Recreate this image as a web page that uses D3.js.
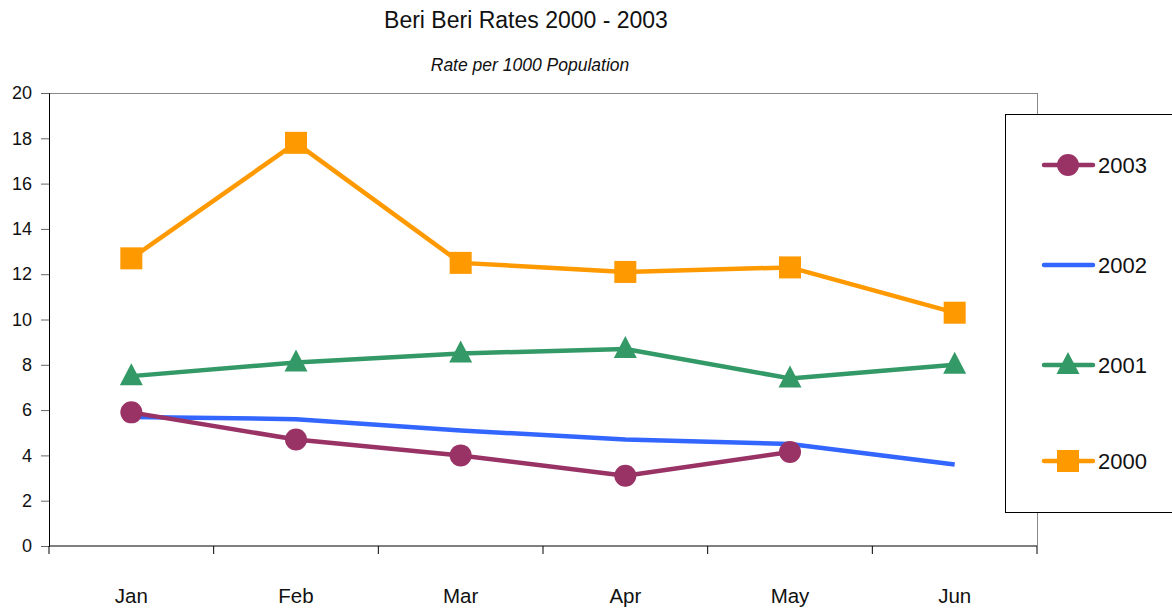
<!DOCTYPE html>
<html>
<head>
<meta charset="utf-8">
<script src="https://cdn.jsdelivr.net/npm/d3@7"></script>
<style>
  body { margin: 0; background: #fff; }
  svg text { font-family: "Liberation Sans", Arial, sans-serif; fill: #111; }
</style>
</head>
<body>
<div id="chart"></div>
<script>
var svgWidth = 1172;
var svgHeight = 608;

var months = ["Jan", "Feb", "Mar", "Apr", "May", "Jun"];
var yTicks = [0, 2, 4, 6, 8, 10, 12, 14, 16, 18, 20];
var rates2003 = [5.9, 4.7, 4.0, 3.1, 4.15, null];
var rates2002 = [5.7, 5.6, 5.1, 4.7, 4.5, 3.6];
var rates2001 = [7.5, 8.1, 8.5, 8.7, 7.4, 8.0];
var rates2000 = [12.7, 17.8, 12.5, 12.1, 12.3, 10.3];

var series = [
  { name: "2003", values: rates2003, color: "#993366", marker: "circle" },
  { name: "2002", values: rates2002, color: "#3366FF", marker: "none" },
  { name: "2001", values: rates2001, color: "#339966", marker: "triangle" },
  { name: "2000", values: rates2000, color: "#FF9900", marker: "square" }
];

var margin = { top: 93, left: 49 };
var width = 1037 - 49;
var height = 546 - 93;

var svg = d3.select("#chart")
  .append("svg")
  .attr("width", svgWidth)
  .attr("height", svgHeight);

// titles
svg.append("text")
  .attr("x", 526).attr("y", 28)
  .attr("text-anchor", "middle")
  .style("font-size", "23px")
  .text("Beri Beri Rates 2000 - 2003");

svg.append("text")
  .attr("x", 530).attr("y", 71)
  .attr("text-anchor", "middle")
  .style("font-size", "17.5px")
  .style("font-style", "italic")
  .text("Rate per 1000 Population");

var chartGroup = svg.append("g")
  .attr("transform", `translate(${margin.left}, ${margin.top})`);

// scales
var xScale = d3.scaleBand()
  .domain(months)
  .range([0, width]);

var yScale = d3.scaleLinear()
  .domain([0, 20])
  .range([height, 0]);

// plot frame top and right (gray)
chartGroup.append("line")
  .attr("x1", 0).attr("x2", width)
  .attr("y1", 0.5).attr("y2", 0.5)
  .attr("stroke", "#888").attr("stroke-width", 1);
chartGroup.append("line")
  .attr("x1", width + 0.5).attr("x2", width + 0.5)
  .attr("y1", 0).attr("y2", height)
  .attr("stroke", "#888").attr("stroke-width", 1);

// y axis
var yAxis = d3.axisLeft(yScale).tickValues(yTicks).tickSize(8).tickPadding(9);
var yG = chartGroup.append("g").call(yAxis);
yG.select(".domain").attr("stroke", "#000");
yG.selectAll(".tick line").attr("stroke", "#666");
yG.selectAll("text").style("font-size", "18px").attr("fill", "#222");

// x axis with ticks on band edges
var xAxisG = chartGroup.append("g")
  .attr("transform", `translate(0, ${height})`);
xAxisG.append("line")
  .attr("x1", 0).attr("x2", width)
  .attr("y1", 0).attr("y2", 0)
  .attr("stroke", "#000");
var edges = months.map(m => xScale(m)).concat([width]);
xAxisG.selectAll(".edge")
  .data(edges)
  .enter()
  .append("line")
  .attr("x1", d => d).attr("x2", d => d)
  .attr("y1", 0).attr("y2", 8)
  .attr("stroke", "#000");
xAxisG.selectAll(".mlabel")
  .data(months)
  .enter()
  .append("text")
  .attr("x", d => xScale(d) + xScale.bandwidth() / 2)
  .attr("y", 57)
  .attr("text-anchor", "middle")
  .style("font-size", "20.5px")
  .text(d => d);

var cx = i => xScale(months[i]) + xScale.bandwidth() / 2;

var line = d3.line()
  .defined(d => d != null)
  .x((d, i) => cx(i))
  .y(d => yScale(d));

function drawMarker(g, type, x, y, color) {
  if (type === "circle") {
    g.append("circle").attr("cx", x).attr("cy", y).attr("r", 11).attr("fill", color);
  } else if (type === "square") {
    g.append("rect").attr("x", x - 11).attr("y", y - 11)
      .attr("width", 22).attr("height", 22).attr("fill", color);
  } else if (type === "triangle") {
    g.append("path")
      .attr("d", `M${x},${y - 13}L${x + 11.5},${y + 9}L${x - 11.5},${y + 9}Z`)
      .attr("fill", color);
  }
}

// draw series, last first so 2003 ends up on top
series.slice().reverse().forEach(function(s) {
  var g = chartGroup.append("g");
  g.append("path")
    .datum(s.values)
    .attr("d", line)
    .attr("fill", "none")
    .attr("stroke", s.color)
    .attr("stroke-width", 4.5)
    .attr("stroke-linejoin", "round");
  s.values.forEach(function(v, i) {
    if (v != null) drawMarker(g, s.marker, cx(i), yScale(v), s.color);
  });
});

// legend
var legend = svg.append("g").attr("transform", "translate(1005, 114)");
legend.append("rect")
  .attr("x", 0.5).attr("y", 0.5)
  .attr("width", 180).attr("height", 398)
  .attr("fill", "#fff").attr("stroke", "#000");

var legendY = [51, 151, 251, 347];
series.forEach(function(s, i) {
  var item = legend.append("g").attr("transform", `translate(0, ${legendY[i]})`);
  item.append("line")
    .attr("x1", 39).attr("x2", 88)
    .attr("y1", 0).attr("y2", 0)
    .attr("stroke", s.color).attr("stroke-width", 4.5)
    .attr("stroke-linecap", "round");
  drawMarker(item, s.marker, 63, 0, s.color);
  item.append("text")
    .attr("x", 93).attr("y", 8)
    .style("font-size", "22px")
    .text(s.name);
});
</script>
</body>
</html>
